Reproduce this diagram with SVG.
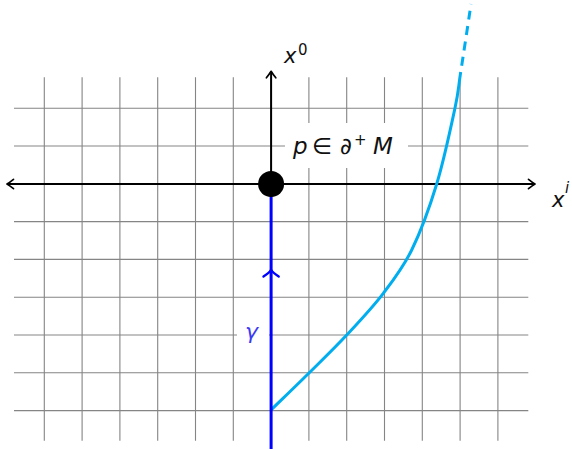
<svg xmlns="http://www.w3.org/2000/svg" width="572" height="449" viewBox="0 0 572 449">
  <style>
    .grid { stroke: #858585; stroke-width: 1.1; fill: none; }
    .axis { stroke: #000; stroke-width: 2; fill: none; }
    .tip { stroke: #000; stroke-width: 1.7; fill: none; stroke-linecap: round; stroke-linejoin: round; }
    .lbl { font-family: "DejaVu Sans", "Liberation Sans", sans-serif; fill: #111; }
    .it { font-style: italic; }
    .curve { stroke: #00aeef; stroke-width: 3; fill: none; }
  </style>
  <rect width="572" height="449" fill="#fff"/>
  <g id="grid">
    <path class="grid" d="M44.3,77.3V440.7 M82.1,77.3V440.7 M119.9,77.3V440.7 M157.7,77.3V440.7 M195.5,77.3V440.7 M233.3,77.3V440.7 M271.1,77.3V440.7 M308.9,77.3V440.7 M346.7,77.3V440.7 M384.5,77.3V440.7 M422.3,77.3V440.7 M460.1,77.3V440.7 M497.9,77.3V440.7
      M14,108.2H528.3 M14,146H528.3 M14,221.6H528.3 M14,259.4H528.3 M14,297.2H528.3 M14,335H528.3 M14,372.8H528.3 M14,410.6H528.3"/>
  </g>
  <g id="axes">
    <path class="axis" d="M8,184H534"/>
    <path class="tip" d="M528.5,179.3C531,181.3 533.3,183 535,184C533.3,185 531,186.7 528.5,188.7"/>
    <path class="tip" d="M13.5,179.3C11,181.3 8.7,183 7,184C8.7,185 11,186.7 13.5,188.7"/>
    <path class="axis" d="M271.1,184V72"/>
    <path class="tip" d="M266.4,77.8C268.4,75.3 270.1,73 271.1,71.3C272.1,73 273.8,75.3 275.8,77.8"/>
  </g>
  <g id="connectors">
    <g id="worldline">
      <path class="curve" d="M271,410 C277.3,403.8 296.4,385.5 309,373 C321.6,360.5 334.3,348.3 346.7,335 C359.1,321.7 372.5,307.5 383.3,293.3 C394.1,279.1 402.8,268.2 411.7,250 C420.6,231.8 429.5,207.7 436.7,184 C443.9,160.3 451,126.7 455,108 C459,89.3 458.1,88.8 460.7,72"/>
      <path class="curve" stroke-dasharray="9 6.5" stroke-dashoffset="9" d="M460.7,72 C463.3,55.2 469,17.8 471,4"/>
    </g>
    <g id="gamma">
      <path d="M271.1,184V449" stroke="#0000ff" stroke-width="3" fill="none"/>
      <path d="M263.5,276.5C266.5,274.5 269.5,272.3 271.1,269.8C272.7,272.3 275.7,274.5 278.7,276.5" stroke="#0000ff" stroke-width="2.4" fill="none" stroke-linecap="round" stroke-linejoin="round"/>
    </g>
  </g>
  <g id="node-p">
    <rect x="285" y="123" width="123" height="45" fill="#fff"/>
    <circle cx="271.1" cy="184" r="13" fill="#000"/>
    <text class="lbl" y="154" font-size="23"><tspan class="it" x="293">p</tspan><tspan x="312">∈</tspan><tspan x="340">∂</tspan><tspan x="354" y="145" font-size="15">+</tspan><tspan class="it" x="373" y="154">M</tspan></text>
  </g>
  <g id="label-gamma">
    <rect x="237" y="318" width="32" height="32" fill="#fff"/>
    <text class="lbl it" x="245" y="339" font-size="22" style="fill:#3a3af5">γ</text>
  </g>
  <g id="label-x0">
    <text class="lbl" y="63" font-size="21"><tspan class="it" x="284">x</tspan><tspan x="298" y="55" font-size="15">0</tspan></text>
  </g>
  <g id="label-xi">
    <text class="lbl" y="207" font-size="21"><tspan class="it" x="552">x</tspan><tspan class="it" x="565" y="193" font-size="15">i</tspan></text>
  </g>
</svg>
